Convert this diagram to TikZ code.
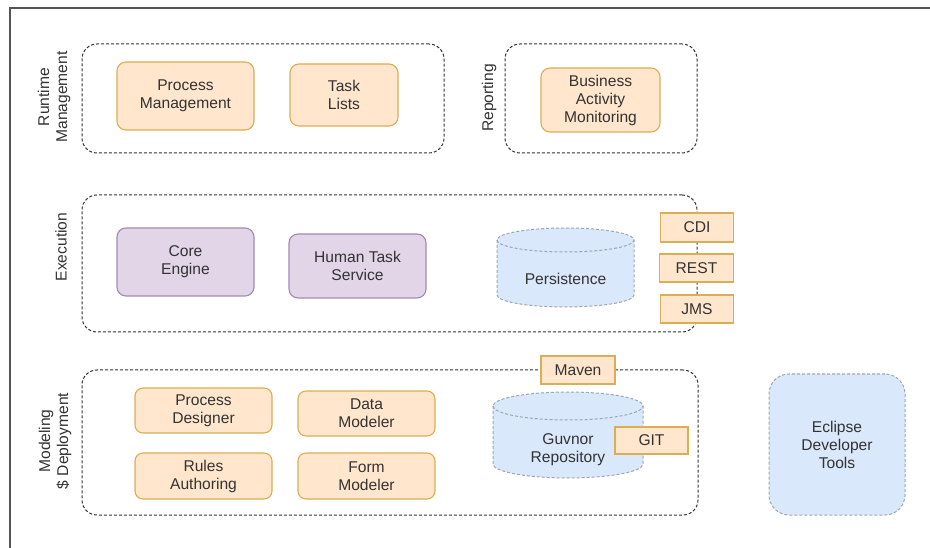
\documentclass[tikz,border=0pt]{standalone}
\usepackage{fontspec}
\setmainfont{Liberation Sans}
\usetikzlibrary{fit}
\definecolor{ofill}{HTML}{FFE6CC}
\definecolor{oline}{HTML}{D9AE55}
\definecolor{pfill}{HTML}{E1D5E7}
\definecolor{pline}{HTML}{A38AB3}
\definecolor{bfill}{HTML}{DAE8FC}
\definecolor{bline}{HTML}{9EA6B0}
\definecolor{txt}{HTML}{333333}
\definecolor{grp}{HTML}{333333}
\definecolor{frm}{HTML}{555555}
\begin{document}
\begin{tikzpicture}[x=1pt,y=1pt,
  every node/.style={font=\fontsize{15.6}{18}\selectfont, text=txt, align=center, inner sep=0pt},
  group/.style={draw=grp, line width=1pt, dash pattern=on 3pt off 2pt, rounded corners=15pt, inner sep=0pt},
  obox/.style={draw=oline, fill=ofill, line width=1.1pt, rounded corners=9pt},
  osq/.style={draw=oline, fill=ofill, line width=1.1pt},
  pbox/.style={draw=pline, fill=pfill, line width=1.1pt, rounded corners=9pt},
  bdash/.style={draw=bline, line width=1pt, dash pattern=on 3pt off 2pt},
  side/.style={rotate=90}
]
\useasboundingbox (0,0) rectangle (930,-548);
\fill[white] (0,0) rectangle (930,-548);
\draw[frm, line width=1.4pt] (10,-548) -- (10,-8) -- (930,-8);

% groups
\node[group, fit={(82,-44) (444,-153)}] (rtgroup) {};
\node[group, fit={(505,-44) (697,-153)}] (repgroup) {};
\node[group, fit={(82,-195) (697,-332)}] (exgroup) {};
\node[group, fit={(82,-370) (698,-515)}] (modgroup) {};

% side labels
\node[side] (lrt) at (54,-97) {Runtime\\Management};
\node[side] (lrep) at (489,-98) {Reporting};
\node[side] (lex) at (61,-247) {Execution};
\node[side] (lmod) at (55,-441) {Modeling\\\$ Deployment};

% runtime
\node[obox, minimum width=137pt, minimum height=68pt] (pm) at (185.5,-96) {Process\\Management};
\node[obox, minimum width=108pt, minimum height=62pt] (tl) at (344,-95) {Task\\Lists};
\node[obox, minimum width=119pt, minimum height=64pt] (bam) at (600.5,-100) {Business\\Activity\\Monitoring};

% execution
\node[pbox, minimum width=137pt, minimum height=68pt] (ce) at (185.5,-262) {Core\\Engine};
\node[pbox, minimum width=137pt, minimum height=64pt] (hts) at (357.5,-266) {Human Task\\Service};

% persistence cylinder
\fill[bfill] (497,-240) -- (497,-295) arc[start angle=180, end angle=360, x radius=68.5, y radius=12] -- (634,-240) arc[start angle=0, end angle=180, x radius=68.5, y radius=12] -- cycle;
\draw[bdash] (497,-240) -- (497,-295) arc[start angle=180, end angle=360, x radius=68.5, y radius=12] -- (634,-240) arc[start angle=0, end angle=180, x radius=68.5, y radius=12];
\draw[bdash] (497,-240) arc[start angle=180, end angle=360, x radius=68.5, y radius=12];
\node (persist) at (565.5,-279) {Persistence};

\node[osq, minimum width=73pt, minimum height=29pt] (cdi) at (697,-227.5) {CDI};
\node[osq, minimum width=74pt, minimum height=28pt] (rest) at (696.5,-268) {REST};
\node[osq, minimum width=73pt, minimum height=28pt] (jms) at (697,-309) {JMS};

% modeling
\node[obox, rounded corners=8pt, minimum width=137pt, minimum height=45pt] (pd) at (203.5,-410.5) {Process\\Designer};
\node[obox, rounded corners=8pt, minimum width=137pt, minimum height=45pt] (dm) at (366.5,-413.5) {Data\\Modeler};
\node[obox, rounded corners=8pt, minimum width=137pt, minimum height=46pt] (ra) at (203.5,-476) {Rules\\Authoring};
\node[obox, rounded corners=8pt, minimum width=137pt, minimum height=46pt] (fm) at (366.5,-476) {Form\\Modeler};

% guvnor cylinder
\fill[bfill] (493,-406) -- (493,-464) arc[start angle=180, end angle=360, x radius=75, y radius=14] -- (643,-406) arc[start angle=0, end angle=180, x radius=75, y radius=14] -- cycle;
\draw[bdash] (493,-406) -- (493,-464) arc[start angle=180, end angle=360, x radius=75, y radius=14] -- (643,-406) arc[start angle=0, end angle=180, x radius=75, y radius=14];
\draw[bdash] (493,-406) arc[start angle=180, end angle=360, x radius=75, y radius=14];
\node (guvnor) at (568,-449.5) {Guvnor\\Repository};

\node[osq, minimum width=74pt, minimum height=28pt] (maven) at (578,-370) {Maven};
\node[osq, minimum width=73pt, minimum height=27pt] (git) at (651.5,-440.5) {GIT};

% eclipse
\node[bdash, fill=bfill, rounded corners=20pt, minimum width=136pt, minimum height=141pt] (eclipse) at (837,-444.5) {Eclipse\\Developer\\Tools};
\end{tikzpicture}
\end{document}
